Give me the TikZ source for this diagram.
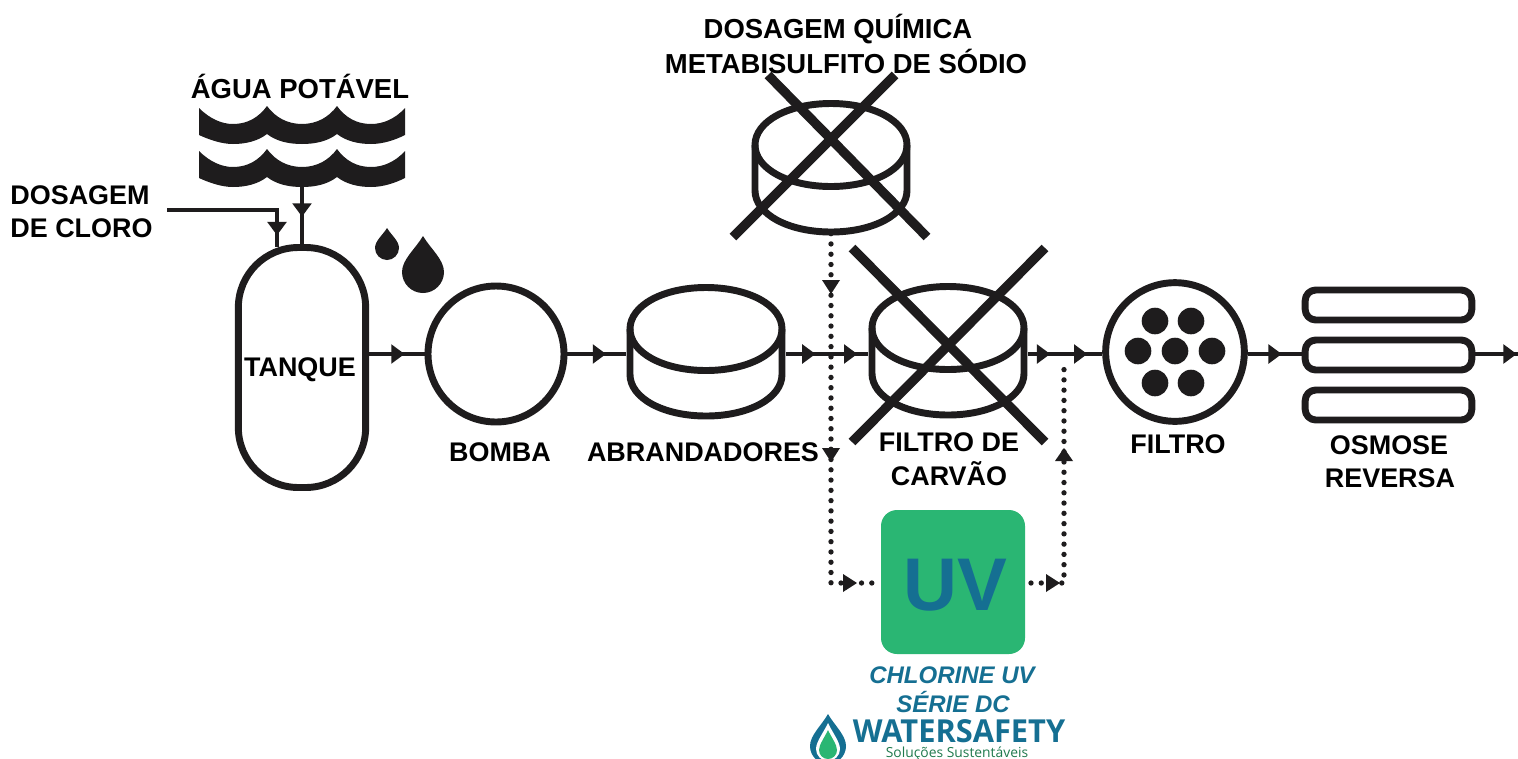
\documentclass[tikz,border=0pt]{standalone}
\usepackage{fontspec}
\setmainfont{Liberation Sans}
\newfontfamily\logofont{Open Sans}
\usetikzlibrary{arrows.meta,decorations.markings,calc}
\definecolor{ink}{HTML}{1E1C1D}
\definecolor{uvgreen}{HTML}{2AB673}
\definecolor{uvblue}{HTML}{156F92}
\definecolor{subgreen}{HTML}{1F7A4D}
\newcommand\cylshape[1]{%
  \begin{scope}[shift={(#1)}]
    \draw[symbol] (-76,-22) .. controls (-76,-45.5) and (-43,-63.5) .. (0,-63.5)
      .. controls (43,-63.5) and (76,-45.5) .. (76,-22)
      .. controls (76,1.5) and (43,19.5) .. (0,19.5)
      .. controls (-43,19.5) and (-76,1.5) .. (-76,-22) -- cycle;
    \draw[symbol] (-76,-22) -- (-76,23.5) .. controls (-76,47) and (-43,65) .. (0,65)
      .. controls (43,65) and (76,47) .. (76,23.5) -- (76,-22);
  \end{scope}}
\newcommand\waveband[1]{%
  \fill[ink,shift={(0,#1)}] (199,108)
    .. controls (210,119) and (222,124) .. (233,124)
    .. controls (248,124) and (259,117) .. (267,106)
    .. controls (275,117) and (287,124) .. (302,124)
    .. controls (317,124) and (329,117) .. (337,106)
    .. controls (345,117) and (356,124) .. (371,124)
    .. controls (383,124) and (395,119) .. (405,108)
    -- (405,135)
    .. controls (395,140) and (383,144) .. (371,144)
    .. controls (358,144) and (346,141) .. (337,134)
    .. controls (328,141) and (316,144) .. (302,144)
    .. controls (288,144) and (276,141) .. (267,134)
    .. controls (258,141) and (246,144) .. (233,144)
    .. controls (222,144) and (210,140) .. (199,135) -- cycle;}
\newcommand\drop[5]{% x, tip y, radius, circle centre y, colour
  \fill[#5] (#1,#2) .. controls ({#1+#3*0.35},{#2+(#4-#2)*0.35}) and ({#1+#3},{#4-#3*0.6}) .. ({#1+#3},#4)
    .. controls ({#1+#3},{#4+#3*0.55}) and ({#1+#3*0.55},{#4+#3}) .. (#1,{#4+#3})
    .. controls ({#1-#3*0.55},{#4+#3}) and ({#1-#3},{#4+#3*0.55}) .. ({#1-#3},#4)
    .. controls ({#1-#3},{#4-#3*0.6}) and ({#1-#3*0.35},{#2+(#4-#2)*0.35}) .. cycle;}
\tikzset{
  symbol/.style={draw=ink,line width=5.2pt,line join=round},
  cross/.style={draw=ink,line width=7pt},
  flow/.style={draw=ink,line width=3.6pt},
  tip at/.style={postaction={decorate,decoration={markings,mark=at position #1 with {\arrow[ink]{Triangle[length=10pt,width=14pt]}}}}},
  dots/.style={draw=ink,line width=4pt,line cap=round,dash pattern=on 0pt off 7.7pt},
  label/.style={font=\bfseries\fontsize{20.2}{25}\selectfont,text=black,inner sep=0pt,align=center},
  biglabel/.style={font=\bfseries\fontsize{20.6}{25}\selectfont,text=black,inner sep=0pt},
  cylbox/.style={minimum width=120pt,minimum height=100pt,inner sep=0pt,outer sep=0pt},
  bar/.style={symbol,rounded corners=8pt,minimum width=125pt,minimum height=22.5pt,inner sep=0pt},
  uvtext/.style={font=\bfseries\itshape\fontsize{18}{22}\selectfont,text=uvblue,inner sep=0pt},
}
\begin{document}
\begin{tikzpicture}[x=0.75pt,y=-0.75pt]
\useasboundingbox (0,0) rectangle (1518,758);
\clip (0,0) rectangle (1518,758);
\fill[white] (0,0) rectangle (1518,758);
\coordinate (main) at (0,354);

% water source
\waveband{0}
\waveband{43}
\node[biglabel] (waterlabel) at (300,86.5) {ÁGUA POTÁVEL};

% chlorine dosing
\node[label,align=left] (cl) at (81.5,212) {DOSAGEM\\[-0.5pt]DE CLORO};
\coordinate (clstart) at (167,210);

% tank
\node[symbol,rounded corners=45pt,minimum width=95.5pt,minimum height=180pt,inner sep=0pt] (tank) at (302,367.5) {};
\node[label] (tanklabel) at (300,369.5) {TANQUE};
\draw[flow,tip at=0.92] (clstart) -| ($(tank.north)+(-25,3)$);
\draw[flow,tip at=0.52] (302,187) -- (tank.north);

% drops
\drop{387}{228}{12}{248}{ink}
\drop{423}{236}{21}{272}{ink}

% pump
\node[symbol,circle,minimum size=102pt,inner sep=0pt] (bomb) at (496,354) {};
\node[label] (bomblabel) at (500,452) {BOMBA};

% softener
\node[cylbox] (abr) at (706,351) {};
\cylshape{706,351}
\node[label] (abrlabel) at (703,452) {ABRANDADORES};

% carbon filter
\node[cylbox] (carb) at (948,350) {};
\cylshape{948,350}
\draw[cross] (852,248) -- (1045,442);
\draw[cross] (1045,248) -- (852,442);
\node[label] (carblabel) at (949,459.5) {FILTRO DE\\[0.2pt]CARVÃO};

% chemical dosing
\node[cylbox] (dos) at (831,167) {};
\cylshape{831,167}
\draw[cross] (733,237) -- (895,75);
\draw[cross] (768,75) -- (927,237);
\node[biglabel] (doslabel1) at (838,29) {DOSAGEM QUÍMICA};
\node[biglabel] (doslabel2) at (846,61.5) {METABISULFITO DE SÓDIO};

% cartridge filter
\node[symbol,circle,minimum size=104pt,inner sep=0pt] (filt) at (1175,352) {};
\foreach \px/\py in {1175/351,1138/351,1212/351,1155/321,1191/321,1155/383,1191/383}
  \fill[ink] (\px,\py) circle [radius=13.3];
\node[label] (filtlabel) at (1178,444) {FILTRO};

% reverse osmosis
\node[bar] (ro1) at (1388.5,305) {};
\node[bar] (ro2) at (1388.5,355) {};
\node[bar] (ro3) at (1388.5,405) {};
\node[label] (rolabel1) at (1389,445) {OSMOSE};
\node[label] (rolabel2) at (1390,478) {REVERSA};

% UV
\node[fill=uvgreen,rounded corners=12pt,minimum size=108pt,inner sep=0pt] (uv) at (953,582) {};
\node[font=\bfseries\fontsize{56}{60}\selectfont,text=uvblue,inner sep=0pt] (uvlabel) at (955.5,585) {UV};
\node[uvtext] (chl1) at (952,675) {CHLORINE UV};
\node[uvtext] (chl2) at (953,702) {SÉRIE DC};

% main line
\draw[flow,tip at=0.64] (tank.east |- main) -- (bomb.west);
\draw[flow,tip at=0.66] (bomb.east) -- (abr.west |- main);
\draw[flow,tip at=0.36,tip at=0.87] (abr.east |- main) -- (carb.west |- main);
\draw[flow,tip at=0.30,tip at=0.80] (carb.east |- main) -- (filt.west |- main);
\draw[flow,tip at=0.63] (filt.east |- main) -- (ro2.west |- main);
\draw[flow,tip at=0.97] (ro2.east |- main) -- (1518,354);

% dotted bypass
\coordinate (uvin) at (875,583);
\coordinate (uvout) at (1031,583);
\coordinate (ret) at (1064,367);
\draw[dots] (dos.south) -- (831,583) -- (uvin);
\draw[dots] (uvout) -- (1064,583) -- (ret);
\fill[ink] (831,294) -- (822,280) -- (840,280) -- cycle;
\fill[ink] (831,462) -- (822,448) -- (840,448) -- cycle;
\fill[ink] (857,583) -- (843,574) -- (843,592) -- cycle;
\fill[ink] (1060,583) -- (1046,574) -- (1046,592) -- cycle;
\fill[ink] (1064,448) -- (1055,461) -- (1073,461) -- cycle;

% logo
\drop{828}{714}{18}{746}{uvblue}
\drop{828}{723}{12}{749}{white}
\drop{828}{730}{9}{750}{uvgreen}
\node[font=\logofont\bfseries\fontsize{22}{24}\selectfont,text=uvblue,inner sep=0pt] (wslogo) at (959,731) {\scalebox{1.05}[1.08]{WATERSAFETY}};
\node[font=\logofont\fontsize{10.4}{12}\selectfont,text=subgreen,inner sep=0pt] (wssub) at (957,754) {Soluções Sustentáveis};
\end{tikzpicture}
\end{document}
